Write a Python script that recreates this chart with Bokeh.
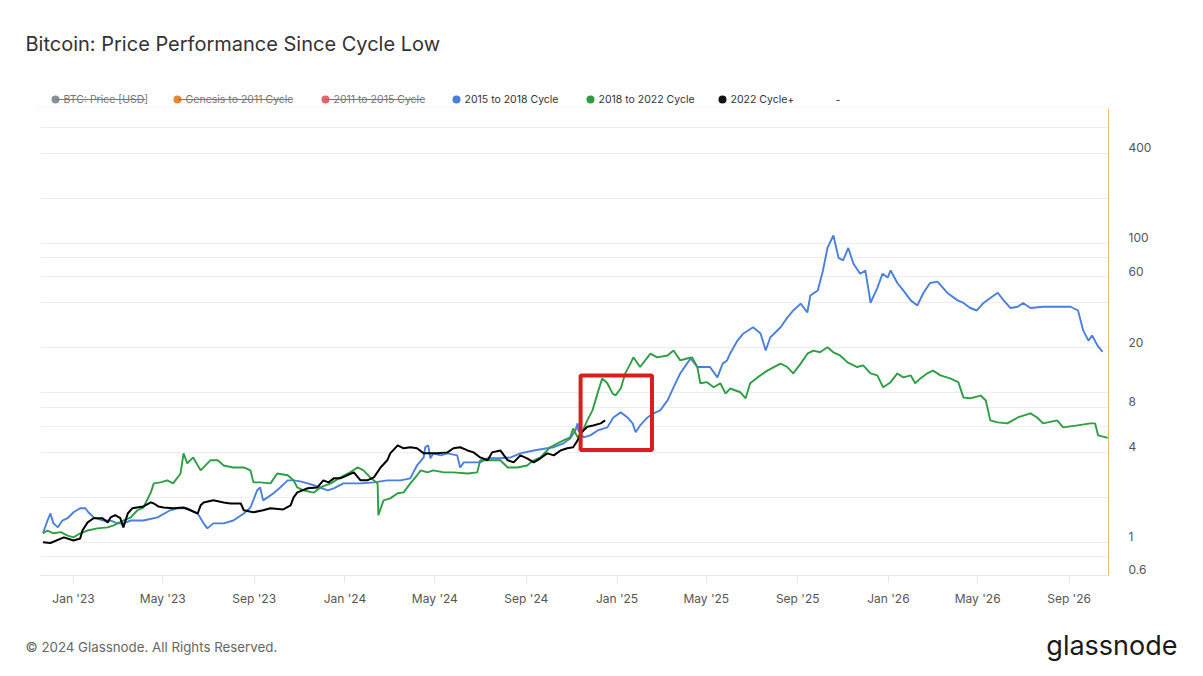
import datetime as dt
from bokeh.plotting import figure
from bokeh.layouts import column
from bokeh.core.properties import value
from bokeh.models import (Range1d, LogAxis, LogScale, FixedTicker, MonthsTicker,
                          DatetimeTickFormatter, CustomJSTickFormatter,
                          BoxAnnotation, Grid)
from bokeh.embed import file_html
from bokeh.resources import INLINE

# ---------------- data (days since each cycle's low, price multiple) ----------------
CYCLE_LOW = dt.datetime(2022, 11, 21)

black_days = [0, 10, 24, 28, 41, 50, 53, 60, 68, 80, 87, 91, 97, 104, 108, 114, 120, 135, 145, 149,
              155, 162, 175, 189, 198, 208, 212, 216, 229, 243, 252, 266, 270, 283, 296, 306, 323, 333,
              337, 342, 356, 369, 377, 384, 391, 400, 409, 418, 427, 436, 445, 454, 463, 467, 477, 485,
              494, 503, 512, 521, 530, 544, 552, 561, 571, 579, 588, 598, 604, 615, 625, 633, 642, 651,
              660, 669, 678, 687, 696, 705, 713, 719, 723, 732, 740, 750, 756]
black_vals = [1.00, 0.99, 1.06, 1.08, 1.03, 1.06, 1.20, 1.36, 1.45, 1.45, 1.36, 1.47, 1.52, 1.45, 1.26,
              1.56, 1.69, 1.74, 1.85, 1.82, 1.74, 1.71, 1.69, 1.71, 1.64, 1.56, 1.77, 1.85, 1.91, 1.85,
              1.82, 1.82, 1.64, 1.59, 1.64, 1.69, 1.66, 1.77, 2.00, 2.16, 2.30, 2.33, 2.60, 2.52, 2.68,
              2.68, 2.81, 2.94, 2.60, 2.60, 2.72, 3.17, 3.54, 3.94, 4.46, 4.26, 4.33, 4.26, 3.94, 3.94,
              3.94, 4.00, 4.26, 4.33, 4.12, 4.00, 3.70, 3.54, 4.00, 4.12, 3.54, 3.43, 3.82, 3.65, 3.43,
              3.65, 3.94, 3.82, 4.12, 4.26, 4.33, 4.81, 5.36, 5.93, 6.06, 6.25, 6.55]

blue_days = [0, 6, 10, 14, 20, 26, 33, 41, 50, 57, 61, 68, 81, 91, 100, 108, 118, 135, 154, 171,
             181, 194, 208, 216, 221, 229, 243, 256, 270, 279, 288, 292, 296, 302, 310, 319, 329, 337, 346, 356,
             364, 383, 391, 404, 427, 445, 463, 481, 494, 498, 503, 512, 514, 518, 521, 525, 535, 544, 557, 561,
             566, 579, 588, 598, 615, 629, 642, 660, 678, 687, 700, 709, 716, 719, 720, 727, 736, 746, 759, 767,
             777, 786, 793, 797, 803, 813, 821, 830, 840, 848, 857, 866, 871, 880, 888, 897, 907, 914, 920, 924,
             934, 942, 955, 965, 972, 978, 992, 1001, 1009, 1019, 1028, 1032, 1042, 1049, 1055, 1063, 1070, 1076,
             1083, 1090, 1099, 1106, 1113, 1122, 1129, 1136, 1140, 1149, 1157, 1167, 1176, 1184, 1193, 1203,
             1216, 1230, 1238, 1247, 1256, 1265, 1274, 1284, 1292, 1301, 1311, 1318, 1328, 1345, 1364, 1382,
             1392, 1399, 1406, 1411, 1418, 1425]
blue_vals = [1.15, 1.40, 1.56, 1.34, 1.26, 1.40, 1.45, 1.59, 1.69, 1.69,
             1.59, 1.47, 1.40, 1.40, 1.34, 1.34, 1.40, 1.40, 1.47, 1.64,
             1.69, 1.69, 1.56, 1.34, 1.24, 1.34, 1.34, 1.40, 1.56, 1.71,
             2.23, 2.33, 1.91, 2.00, 2.13, 2.33, 2.60, 2.60, 2.56, 2.48,
             2.41, 2.23, 2.30, 2.48, 2.48, 2.52, 2.60, 2.60, 2.68, 2.94,
             3.27, 3.70, 4.33, 4.46, 3.65, 3.94, 3.82, 3.94, 3.82, 3.17,
             3.43, 3.43, 3.43, 3.65, 3.65, 3.70, 3.94, 4.12, 4.26, 4.33,
             4.60, 4.96, 5.61, 6.25, 5.61, 5.04, 5.20, 5.61, 5.88, 6.85,
             7.41, 6.85, 6.25, 5.45, 6.06, 6.85, 7.30, 7.64, 8.91, 10.9,
             13.5, 15.7, 17.0, 14.9, 14.9, 14.9, 12.7, 15.7, 16.5, 18.3,
             22.4, 25.0, 27.5, 25.0, 19.2, 23.5, 27.5, 31.9, 35.6, 39.6,
             34.5, 44.9, 48.5, 66.0, 93.3, 113.0, 80.0, 77.0, 93.3, 73.1,
             62.7, 66.0, 40.1, 50.3, 62.7, 59.1, 66.0, 54.4, 48.5, 41.6,
             38.5, 46.6, 54.4, 55.5, 46.8, 41.6, 40.0, 37.0, 35.6, 40.0,
             43.2, 46.8, 41.6, 37.0, 37.7, 40.0, 37.0, 37.7, 37.7, 37.7,
             35.6, 26.2, 22.4, 24.2, 20.8, 18.8]

green_days = [0, 6, 14, 24, 33, 41, 50, 60, 73, 87, 95, 108, 118, 127, 135, 145, 149, 158, 167, 175,
              185, 189, 194, 202, 212, 225, 235, 243, 256, 270, 279, 283, 292, 306, 315, 329, 337, 342, 350, 364,
              373, 387, 400, 413, 423, 431, 440, 450, 451, 458, 467, 477, 485, 494, 503, 508, 517, 525, 539, 552,
              571, 584, 588, 598, 615, 625, 638, 651, 660, 669, 682, 692, 700, 709, 713, 719, 725, 732, 739, 747,
              752, 759, 766, 770, 777, 783, 790, 794, 803, 813, 817, 826, 840, 848, 857, 866, 873, 880, 884, 893,
              902, 911, 918, 924, 938, 945, 951, 961, 974, 992, 1001, 1009, 1019, 1028, 1036, 1045, 1055, 1063,
              1072, 1082, 1095, 1103, 1113, 1122, 1130, 1140, 1149, 1157, 1167, 1173, 1180, 1189, 1197, 1207,
              1220, 1231, 1238, 1247, 1261, 1268, 1274, 1284, 1297, 1311, 1328, 1337, 1345, 1364, 1372, 1391,
              1409, 1415, 1419, 1432]
green_vals = [1.15, 1.20, 1.15, 1.17, 1.11, 1.08, 1.15, 1.20, 1.24, 1.26,
              1.30, 1.40, 1.47, 1.64, 1.71, 2.16, 2.48, 2.52, 2.60, 2.48,
              2.89, 3.94, 3.38, 3.70, 3.03, 3.54, 3.54, 3.27, 3.17, 3.17,
              3.03, 2.52, 2.52, 2.48, 2.89, 2.81, 2.60, 2.33, 2.23, 2.15,
              2.33, 2.48, 2.72, 2.94, 3.17, 3.03, 2.72, 2.48, 1.52, 1.91,
              1.97, 2.13, 2.16, 2.48, 2.81, 3.03, 2.94, 3.03, 2.94, 2.94,
              2.89, 2.94, 3.54, 3.54, 3.54, 3.17, 3.17, 3.27, 3.54, 3.70,
              4.33, 4.60, 4.81, 5.04, 5.78, 5.04, 5.45, 6.55, 7.64, 10.4,
              12.5, 11.6, 9.90, 9.62, 10.7, 13.5, 15.7, 17.3, 14.9, 17.3,
              18.3, 17.3, 17.8, 19.2, 16.5, 17.0, 17.3, 14.9, 11.6, 11.8,
              10.9, 11.6, 9.90, 10.7, 10.1, 9.2, 11.6, 12.7, 14.1, 15.7,
              14.9, 13.5, 15.7, 18.3, 19.2, 18.7, 20.2, 18.7, 17.8, 16.0,
              14.9, 15.3, 13.5, 13.1, 10.9, 11.8, 13.5, 12.7, 13.1, 11.6,
              12.5, 13.5, 14.1, 13.1, 12.5, 11.8, 9.3, 9.2, 9.6, 8.9,
              6.55, 6.35, 6.25, 6.85, 7.30, 6.85, 6.25, 6.55, 5.88, 6.06,
              6.25, 6.25, 5.20, 5.00]

y_label_ticks = [0.6, 1, 4, 8, 20, 60, 100, 400]
y_grid_ticks = [0.6, 0.8, 1, 2, 4, 6, 8, 10, 20, 40, 60, 80, 100, 200, 400, 600, 800]

highlight_days = [723, 819]       # red box (days since cycle low)
highlight_vals = [4.15, 13.1]

title_text = "Bitcoin: Price Performance Since Cycle Low"
legend_labels = ["BTC: Price [USD]", "Genesis to 2011 Cycle", "2011 to 2015 Cycle",
                 "2015 to 2018 Cycle", "2018 to 2022 Cycle", "2022 Cycle+"]
legend_colors = ["#8a9299", "#e8892f", "#e5636d", "#4a80dc", "#2e9e44", "#111111"]
legend_hidden = [True, True, True, False, False, False]
footer_text = "© 2024 Glassnode. All Rights Reserved."
logo_text = "glassnode"


def to_dates(days):
    return [CYCLE_LOW + dt.timedelta(days=float(d)) for d in days]


FONT = "Inter"
W = 1195
HEAD_H, MAIN_H, FOOT_H = 108, 512, 48
Y0, Y1 = 0.6, 800.0
K = 10 ** (5.5 / 149.4)  # label axis offset (labels sit just above their gridline)


def blank(h):
    f = figure(width=W, height=h, x_range=Range1d(0, W), y_range=Range1d(h, 0),
               output_backend="svg", toolbar_location=None, title=None,
               min_border=0, x_axis_location=None, y_axis_location=None)
    f.frame_align = False
    f.outline_line_color = None
    f.grid.visible = False
    f.background_fill_color = "white"
    f.border_fill_color = "white"
    return f


# ---------------- header: title + legend ----------------
head = blank(HEAD_H)
head.text(x=[25], y=[43], text=[title_text], text_font=value(FONT), text_font_size="20px",
          text_color="#333333", text_baseline="middle", text_align="left")
dot_x = [55, 177, 325, 456, 590, 722]
text_end = [145, 291, 422]
LEG_Y = 99
head.scatter(x=dot_x, y=[LEG_Y] * len(dot_x), marker="circle", size=8,
             fill_color=legend_colors, line_color=None)
head.text(x=[d + 8 for d in dot_x], y=[LEG_Y] * len(dot_x), text=legend_labels,
          text_font=value(FONT), text_font_size="10.5px",
          text_color=["#777777" if h else "#333333" for h in legend_hidden],
          text_baseline="middle", text_align="left")
hid_idx = [i for i, h in enumerate(legend_hidden) if h]
head.segment(x0=[dot_x[i] for i in hid_idx], x1=[text_end[j] for j in range(len(hid_idx))],
             y0=[LEG_Y] * len(hid_idx), y1=[LEG_Y] * len(hid_idx), line_color="#777777", line_width=1)
head.text(x=[835], y=[LEG_Y], text=["-"], text_font=value(FONT), text_font_size="10.5px",
          text_color="#333333", text_baseline="middle")
head.segment(x0=[35], x1=[1108], y0=[107.5], y1=[107.5], line_color="#eeeeee", line_width=1)

# ---------------- main chart ----------------
p = figure(width=W, height=MAIN_H, x_axis_type="datetime", y_axis_type="log",
           x_range=Range1d(CYCLE_LOW + dt.timedelta(days=-3.4), CYCLE_LOW + dt.timedelta(days=1433)),
           y_range=Range1d(Y0, Y1), y_axis_location=None, title=None,
           output_backend="svg", toolbar_location=None,
           min_border_left=40, min_border_right=87, min_border_top=0, min_border_bottom=45)
p.frame_align = False
p.outline_line_color = None
p.background_fill_color = "white"
p.border_fill_color = "white"
p.grid.visible = False
p.add_layout(Grid(dimension=1, ticker=FixedTicker(ticks=y_grid_ticks),
                  grid_line_color="#eeeeee", grid_line_width=1))

xa = p.xaxis[0]
xa.ticker = MonthsTicker(months=[0, 4, 8])
xa.formatter = DatetimeTickFormatter(months="%b '%y", days="%b '%y", years="%b '%y")
xa.axis_line_color = "#e6e6e6"
xa.major_tick_line_color = "#e6e6e6"
xa.major_tick_out = 7
xa.major_tick_in = 0
xa.minor_tick_line_color = None
xa.major_label_standoff = 8
xa.major_label_text_font = FONT
xa.major_label_text_font_size = "12px"
xa.major_label_text_color = "#555555"

p.extra_y_ranges = {"lab": Range1d(Y0 / K, Y1 / K)}
p.extra_y_scales = {"lab": LogScale()}
ya = LogAxis(y_range_name="lab", ticker=FixedTicker(ticks=y_label_ticks),
             formatter=CustomJSTickFormatter(code="return String(tick);"))
ya.axis_line_color = "#ecb97a"
ya.axis_line_width = 1
ya.major_tick_line_color = None
ya.minor_tick_line_color = None
ya.major_label_standoff = 14
ya.major_label_text_font = FONT
ya.major_label_text_font_size = "12px"
ya.major_label_text_color = "#555555"
p.add_layout(ya, "right")

p.line(to_dates(blue_days), blue_vals, line_color=legend_colors[3], line_width=1.9)
p.line(to_dates(green_days), green_vals, line_color=legend_colors[4], line_width=1.9)
p.line(to_dates(black_days), black_vals, line_color="#000000", line_width=2)

hd = to_dates(highlight_days)
p.add_layout(BoxAnnotation(left=hd[0], right=hd[1], bottom=highlight_vals[0], top=highlight_vals[1],
                           fill_color=None, fill_alpha=0, line_color="#d81e1e", line_alpha=1,
                           line_width=4))

# ---------------- footer ----------------
foot = blank(FOOT_H)
foot.text(x=[25], y=[26], text=[footer_text], text_font=value(FONT), text_font_size="13.3px",
          text_color="#666666", text_baseline="middle", text_align="left")
foot.text(x=[1177], y=[25], text=[logo_text], text_font=value(FONT), text_font_size="27px",
          text_color="#1a1a1a", text_baseline="middle", text_align="right")

layout = column(head, p, foot, spacing=0)
open("out.html", "w").write(file_html(layout, INLINE))
